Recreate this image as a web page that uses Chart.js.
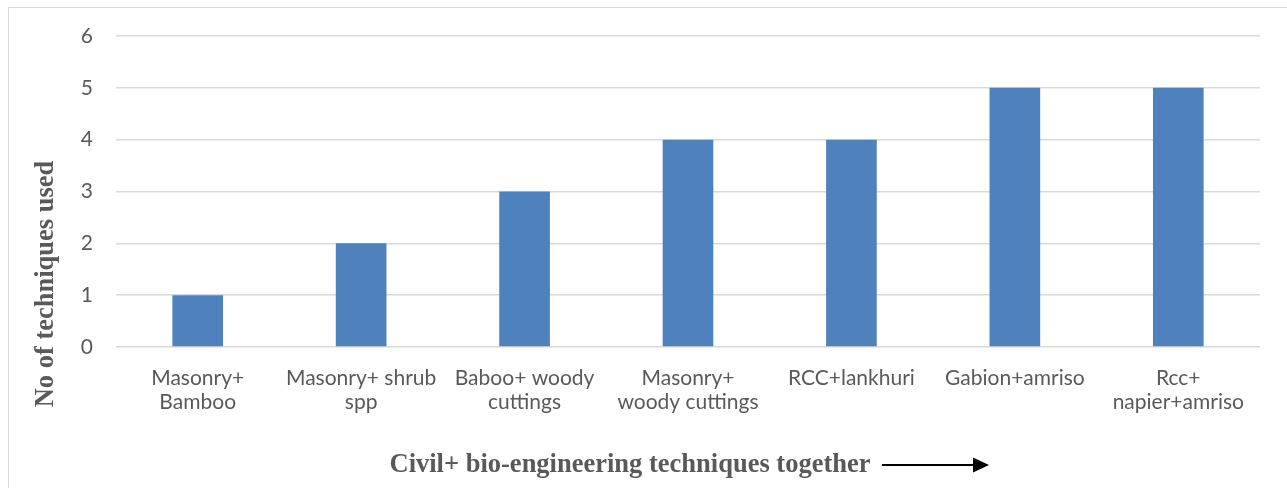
<!DOCTYPE html>
<html>
<head>
<meta charset="utf-8">
<script src="https://cdn.jsdelivr.net/npm/chart.js@4/dist/chart.umd.min.js"></script>
<style>
  html, body { margin: 0; padding: 0; background: #fff; }
  #wrap { width: 1287px; height: 488px; }
</style>
</head>
<body>
<div id="wrap"><canvas id="chart" width="1287" height="488"></canvas></div>
<script>
// Data
const categories = [
    ['Masonry+', 'Bamboo'],
    ['Masonry+ shrub', 'spp'],
    ['Baboo+ woody', 'cuttings'],
    ['Masonry+', 'woody cuttings'],
    'RCC+lankhuri',
    'Gabion+amriso',
    ['Rcc+', 'napier+amriso']
];
const techniquesUsed = [1, 2, 3, 4, 4, 5, 5];
const yTicks = [0, 1, 2, 3, 4, 5, 6];

const yTitle = 'No of techniques used';
const xTitle = 'Civil+ bio-engineering techniques together';

// Frame, axis titles and arrow
const decorations = {
    id: 'decorations',
    beforeDraw(chart) {
        const ctx = chart.ctx;
        ctx.save();
        ctx.strokeStyle = '#d9d9d9';
        ctx.lineWidth = 1;
        ctx.strokeRect(8.5, 7.5, 1300, 500);
        ctx.restore();
    },
    afterDraw(chart) {
        const ctx = chart.ctx;
        ctx.save();
        ctx.fillStyle = '#595959';
        ctx.font = 'bold 26.5px "Liberation Serif", "Times New Roman", serif';
        ctx.textAlign = 'center';
        ctx.textBaseline = 'middle';
        // y title
        ctx.save();
        ctx.translate(46, 284);
        ctx.rotate(-Math.PI / 2);
        ctx.fillText(yTitle, 0, 0);
        ctx.restore();
        // x title
        ctx.fillText(xTitle, 630, 465);
        // arrow
        ctx.strokeStyle = '#000';
        ctx.fillStyle = '#000';
        ctx.lineWidth = 2;
        ctx.beginPath();
        ctx.moveTo(882, 465);
        ctx.lineTo(976, 465);
        ctx.stroke();
        ctx.beginPath();
        ctx.moveTo(989, 465);
        ctx.lineTo(973, 457.5);
        ctx.lineTo(973, 472.5);
        ctx.closePath();
        ctx.fill();
        ctx.restore();
    }
};

const ctx = document.getElementById('chart').getContext('2d');
new Chart(ctx, {
    type: 'bar',
    data: {
        labels: categories,
        datasets: [{
            data: techniquesUsed,
            backgroundColor: '#4f81bd',
            borderWidth: 0,
            barPercentage: 0.31,
            categoryPercentage: 1
        }]
    },
    options: {
        responsive: false,
        animation: false,
        layout: { padding: { top: 36, right: 27, left: 0, bottom: 0 } },
        plugins: {
            legend: { display: false },
            tooltip: { enabled: false }
        },
        scales: {
            x: {
                grid: { display: false, drawTicks: false },
                border: { display: false },
                ticks: {
                    color: '#595959',
                    font: { family: 'Lato, "Open Sans", sans-serif', size: 21, lineHeight: 1.15 },
                    padding: 19,
                    maxRotation: 0,
                    autoSkip: false
                },
                afterFit(scale) { scale.height = 141; }
            },
            y: {
                min: 0,
                max: 6,
                afterBuildTicks(scale) { scale.ticks = yTicks.map(v => ({ value: v })); },
                grid: { color: '#d9d9d9', lineWidth: 1.5, drawTicks: false },
                border: { display: false },
                ticks: {
                    color: '#595959',
                    font: { family: 'Lato, "Open Sans", sans-serif', size: 21 },
                    padding: 23
                },
                afterFit(scale) { scale.width = 116; }
            }
        }
    },
    plugins: [decorations]
});
</script>
</body>
</html>
